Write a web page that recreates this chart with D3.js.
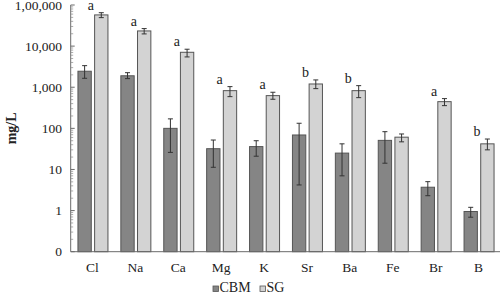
<!DOCTYPE html>
<html>
<head>
<meta charset="utf-8">
<script src="https://cdn.jsdelivr.net/npm/d3@7"></script>
<style>
  body { margin: 0; background: #fff; }
  svg { display: block; font-family: "Liberation Serif", "Times New Roman", serif; }
</style>
</head>
<body>
<div id="chart"></div>
<script>
// element list and series (mg/L)
const elements = ["Cl", "Na", "Ca", "Mg", "K", "Sr", "Ba", "Fe", "Br", "B"];
const seriesNames = ["CBM", "SG"];
const cbmMean = [2450, 1900, 100, 32, 36, 69, 25, 51, 3.7, 0.95];
const cbmLow  = [1650, 1620, 26, 11.3, 21, 4.2, 7, 14.2, 2.3, 0.69];
const cbmHigh = [3350, 2260, 170, 52, 50, 133, 42, 83, 5.05, 1.2];
const sgMean  = [57400, 23400, 7080, 826, 625, 1200, 826, 61, 446, 42];
const sgLow   = [49300, 19800, 5460, 590, 510, 925, 558, 47, 357, 30];
const sgHigh  = [65000, 26700, 8400, 1035, 755, 1505, 1093, 73, 529, 55];
const sigLetters = ["a", "a", "a", "a", "a", "b", "b", "", "a", "b"];
const yTickValues = [0.1, 1, 10, 100, 1000, 10000, 100000];
const yTickLabels = ["0", "1", "10", "100", "1,000", "10,000", "1,00,000"];

const W = 500, H = 296;
const colors = { CBM: "#858585", SG: "#d3d3d3" };
const fontSize = "13.5px";

const svg = d3.select("#chart").append("svg")
    .attr("width", W)
    .attr("height", H);

// scales
const x = d3.scaleBand()
    .domain(elements)
    .range([71.5, 500.5])
    .padding(0);

const x1 = d3.scaleBand()
    .domain(seriesNames)
    .range([-15, 15])
    .paddingInner(0.2);

const y = d3.scaleLog()
    .domain([0.1, 100000])
    .range([251.7, 5]);

const rows = elements.map((el, i) => ({
    el,
    letter: sigLetters[i],
    vals: [
        { s: "CBM", v: cbmMean[i], lo: cbmLow[i], hi: cbmHigh[i] },
        { s: "SG", v: sgMean[i], lo: sgLow[i], hi: sgHigh[i] },
    ],
}));

// y axis, log minor ticks drawn inside
const axisX = 70.7;
const minorTicks = [];
for (let e = -1; e < 5; e++) {
    for (let k = 2; k <= 9; k++) minorTicks.push(k * Math.pow(10, e));
}
const yAxis = svg.append("g");
yAxis.append("line")
    .attr("x1", axisX).attr("x2", axisX)
    .attr("y1", y(100000)).attr("y2", y(0.1))
    .attr("stroke", "#6b6b6b");
yAxis.selectAll("line.minor")
    .data(minorTicks)
    .enter().append("line")
    .attr("class", "minor")
    .attr("x1", axisX).attr("x2", axisX + 2.5)
    .attr("y1", d => y(d)).attr("y2", d => y(d))
    .attr("stroke", "#8a8a8a")
    .attr("stroke-width", 0.7);
yAxis.selectAll("line.major")
    .data(yTickValues)
    .enter().append("line")
    .attr("class", "major")
    .attr("x1", axisX).attr("x2", axisX + 4)
    .attr("y1", d => y(d)).attr("y2", d => y(d))
    .attr("stroke", "#6b6b6b");
yAxis.selectAll("text")
    .data(yTickValues)
    .enter().append("text")
    .attr("x", 62)
    .attr("y", d => y(d))
    .attr("dy", "0.35em")
    .attr("text-anchor", "end")
    .style("font-size", fontSize)
    .attr("fill", "#222")
    .text((d, i) => yTickLabels[i]);

// axis title
svg.append("text")
    .attr("transform", `translate(16,${(5 + 251.7) / 2}) rotate(-90)`)
    .attr("text-anchor", "middle")
    .style("font-size", "14px")
    .style("font-weight", "bold")
    .attr("fill", "#222")
    .text("mg/L");

// bars
const groups = svg.append("g").selectAll("g")
    .data(rows)
    .enter().append("g")
    .attr("transform", d => `translate(${x(d.el) + x.bandwidth() / 2},0)`);

groups.selectAll("rect")
    .data(d => d.vals)
    .enter().append("rect")
    .attr("x", d => x1(d.s))
    .attr("width", x1.bandwidth())
    .attr("y", d => y(d.v))
    .attr("height", d => y(0.1) - y(d.v))
    .attr("fill", d => colors[d.s])
    .attr("stroke", "#555")
    .attr("stroke-width", 1);

// error bars
const eb = groups.selectAll("g.err")
    .data(d => d.vals)
    .enter().append("g")
    .attr("class", "err")
    .attr("stroke", "#333")
    .attr("stroke-width", 1);
eb.append("line")
    .attr("x1", d => x1(d.s) + x1.bandwidth() / 2)
    .attr("x2", d => x1(d.s) + x1.bandwidth() / 2)
    .attr("y1", d => y(d.lo)).attr("y2", d => y(d.hi));
eb.append("line")
    .attr("x1", d => x1(d.s) + x1.bandwidth() / 2 - 2.5)
    .attr("x2", d => x1(d.s) + x1.bandwidth() / 2 + 2.5)
    .attr("y1", d => y(d.hi)).attr("y2", d => y(d.hi));
eb.append("line")
    .attr("x1", d => x1(d.s) + x1.bandwidth() / 2 - 2.5)
    .attr("x2", d => x1(d.s) + x1.bandwidth() / 2 + 2.5)
    .attr("y1", d => y(d.lo)).attr("y2", d => y(d.lo));

// significance letters
groups.append("text")
    .attr("x", -2)
    .attr("y", d => y(d.vals[1].hi) - 3)
    .attr("text-anchor", "middle")
    .style("font-size", "14px")
    .attr("fill", "#222")
    .text(d => d.letter);

// x axis baseline
svg.append("line")
    .attr("x1", axisX).attr("x2", 500)
    .attr("y1", y(0.1)).attr("y2", y(0.1))
    .attr("stroke", "#6b6b6b");

svg.append("g").selectAll("text")
    .data(elements)
    .enter().append("text")
    .attr("x", d => x(d) + x.bandwidth() / 2 - 0.5)
    .attr("y", 272)
    .attr("text-anchor", "middle")
    .style("font-size", fontSize)
    .attr("fill", "#222")
    .text(d => d);

// legend
const legend = svg.append("g").attr("transform", "translate(213,286)");
const legendX = [0, 47];
seriesNames.forEach((s, i) => {
    const g = legend.append("g").attr("transform", `translate(${legendX[i]},0)`);
    g.append("rect")
        .attr("width", 5.5).attr("height", 5.5)
        .attr("y", 0)
        .attr("fill", colors[s])
        .attr("stroke", "#555")
        .attr("stroke-width", 0.8);
    g.append("text")
        .attr("x", 6.5)
        .attr("y", 6)
        .style("font-size", "14px")
        .attr("fill", "#222")
        .text(s);
});
</script>
</body>
</html>
